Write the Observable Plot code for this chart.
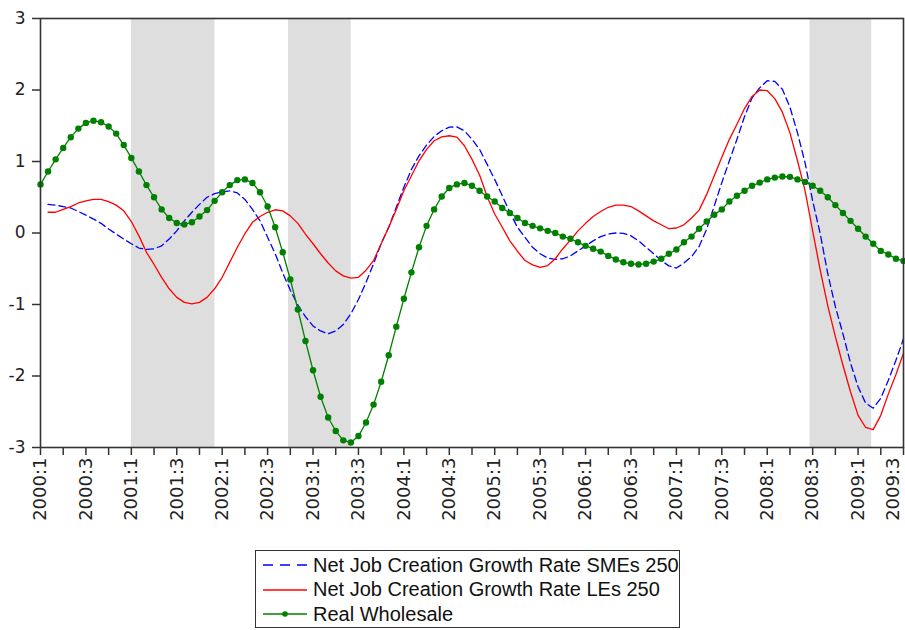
<!DOCTYPE html>
<html>
<head>
<meta charset="utf-8">
<script src="https://cdn.jsdelivr.net/npm/d3@7"></script>
<script src="https://cdn.jsdelivr.net/npm/@observablehq/plot@0.6"></script>
<style>
  body { margin: 0; background: #fff; }
  #chart { position: absolute; left: 0; top: 0; }
  #legend {
    position: absolute; left: 255px; top: 550px; width: 425px; height: 78px;
    border: 1px solid #333; box-sizing: border-box; padding-top: 2px;
    font-family: "Liberation Sans", Arial, sans-serif; font-size: 20px; color: #111;
  }
  .row { display: flex; align-items: center; height: 24.5px; white-space: nowrap; }
  .row svg { margin-left: 7px; margin-right: 6px; }
</style>
</head>
<body>
<div id="chart"></div>
<div id="legend"></div>
<script>
// ---- Data (monthly, starting 2000:1 = January 2000) ----
const startYear = 2000;
const seriesNames = ["Net Job Creation Growth Rate SMEs 250", "Net Job Creation Growth Rate LEs 250", "Real Wholesale"];

// Real Wholesale, months 0..114
const wholesale = [
  0.68, 0.86, 1.03, 1.19, 1.34, 1.46, 1.54, 1.57, 1.55, 1.49,
  1.39, 1.23, 1.05, 0.86, 0.67, 0.50, 0.33, 0.21, 0.14, 0.12,
  0.15, 0.23, 0.32, 0.45, 0.57, 0.67, 0.74, 0.75, 0.70, 0.57,
  0.37, 0.08, -0.27, -0.65, -1.07, -1.51, -1.92, -2.29, -2.58, -2.77,
  -2.90, -2.93, -2.84, -2.65, -2.40, -2.08, -1.71, -1.31, -0.92, -0.55,
  -0.20, 0.10, 0.33, 0.51, 0.63, 0.68, 0.70, 0.66, 0.59, 0.51,
  0.44, 0.35, 0.28, 0.21, 0.14, 0.10, 0.065, 0.03, 0.00, -0.05,
  -0.08, -0.13, -0.18, -0.22, -0.26, -0.32, -0.37, -0.41, -0.43, -0.44,
  -0.43, -0.40, -0.36, -0.29, -0.23, -0.13, -0.05, 0.06, 0.16, 0.255,
  0.33, 0.44, 0.52, 0.59, 0.66, 0.705, 0.75, 0.775, 0.79, 0.785,
  0.75, 0.715, 0.66, 0.59, 0.50, 0.39, 0.28, 0.17, 0.06, -0.05,
  -0.15, -0.25, -0.30, -0.36, -0.39
];

// SMEs and LEs start at month 1
const jobStart = 1;
const smes = [
  0.40, 0.39, 0.37, 0.35, 0.30, 0.25, 0.195, 0.135, 0.055,
  -0.015, -0.085, -0.15, -0.21, -0.23, -0.22, -0.18, -0.085, 0.03, 0.17,
  0.29, 0.40, 0.50, 0.55, 0.575, 0.59, 0.56, 0.47, 0.33, 0.17,
  -0.06, -0.29, -0.56, -0.80, -1.01, -1.17, -1.30, -1.37, -1.41, -1.37,
  -1.28, -1.13, -0.93, -0.69, -0.43, -0.15, 0.08, 0.36, 0.64, 0.89,
  1.08, 1.23, 1.35, 1.43, 1.48, 1.485, 1.43, 1.31, 1.17, 0.96,
  0.75, 0.52, 0.29, 0.08, -0.06, -0.20, -0.29, -0.35, -0.37, -0.36,
  -0.32, -0.25, -0.18, -0.11, -0.05, -0.015, 0.00, -0.005, -0.04, -0.11,
  -0.20, -0.29, -0.385, -0.46, -0.49, -0.42, -0.33, -0.19, 0.055, 0.38,
  0.705, 1.01, 1.31, 1.63, 1.89, 2.03, 2.13, 2.12, 2.01, 1.76,
  1.40, 0.98, 0.45, -0.01, -0.57, -1.03, -1.41, -1.82, -2.15, -2.38,
  -2.45, -2.31, -2.06, -1.78, -1.48
];
const les = [
  0.29, 0.29, 0.33, 0.37, 0.42, 0.45, 0.47, 0.47, 0.44,
  0.39, 0.31, 0.16, -0.04, -0.27, -0.44, -0.62, -0.78, -0.90, -0.97,
  -0.99, -0.97, -0.90, -0.78, -0.62, -0.41, -0.20, -0.01, 0.15, 0.23,
  0.29, 0.325, 0.31, 0.24, 0.135, -0.015, -0.15, -0.29, -0.42, -0.53,
  -0.60, -0.63, -0.62, -0.52, -0.385, -0.15, 0.08, 0.33, 0.59, 0.80,
  1.01, 1.17, 1.29, 1.345, 1.36, 1.34, 1.22, 1.03, 0.81, 0.51,
  0.265, 0.08, -0.11, -0.255, -0.385, -0.445, -0.48, -0.455, -0.36, -0.22,
  -0.10, 0.03, 0.135, 0.23, 0.30, 0.36, 0.39, 0.39, 0.37, 0.31,
  0.24, 0.17, 0.115, 0.06, 0.07, 0.115, 0.21, 0.32, 0.54, 0.80,
  1.06, 1.31, 1.52, 1.74, 1.91, 2.00, 1.99, 1.88, 1.69, 1.40,
  1.01, 0.59, 0.03, -0.52, -1.02, -1.45, -1.85, -2.22, -2.55, -2.72,
  -2.75, -2.55, -2.25, -1.98, -1.68
];

// Shaded periods (decimal years)
const bandStarts = [2001.0, 2002.73, 2008.47];
const bandEnds   = [2001.92, 2003.42, 2009.15];

// Axis tick labels (every second quarter)
const tickLabels = ["2000:1","2000:3","2001:1","2001:3","2002:1","2002:3","2003:1","2003:3",
  "2004:1","2004:3","2005:1","2005:3","2006:1","2006:3","2007:1","2007:3",
  "2008:1","2008:3","2009:1","2009:3"];
const yTicks = [-3, -2, -1, 0, 1, 2, 3];

// ---- Build tables ----
const toT = m => startYear + m / 12;
const greenData = wholesale.map((v, i) => ({t: toT(i), v}));
const blueData = smes.map((v, i) => ({t: toT(i + jobStart), v}));
const redData = les.map((v, i) => ({t: toT(i + jobStart), v}));
const bands = bandStarts.map((s, i) => ({s, e: bandEnds[i]}));

const labelPos = tickLabels.map(l => { const [y, q] = l.split(":").map(Number); return y + (q - 1) / 4; });
const lastPos = labelPos[labelPos.length - 1];
const quarterTicks = [];
for (let i = 0; i <= (lastPos - labelPos[0]) * 4 + 0.001; i++) quarterTicks.push(labelPos[0] + i / 4);
const fmtX = d => { const k = labelPos.findIndex(p => Math.abs(p - d) < 1e-6); return k >= 0 ? tickLabels[k] : ""; };
const fmtXMain = d => Math.abs(d - lastPos) < 1e-6 ? "" : fmtX(d);

const chart = Plot.plot({
  width: 905,
  height: 535,
  marginLeft: 40,
  marginRight: 2,
  marginTop: 18,
  marginBottom: 88,
  x: {domain: [labelPos[0], lastPos]},
  y: {domain: [-3, 3]},
  style: {fontFamily: "'DejaVu Sans', sans-serif", color: "#222", background: "#fff"},
  marks: [
    Plot.rect(bands, {x1: "s", x2: "e", fill: "#dedede"}),
    Plot.axisY({ticks: yTicks, tickSize: 8, tickPadding: 7, tickFormat: d => String(d), fontSize: 17, label: null, stroke: "#333", strokeWidth: 1.5}),
    Plot.axisX({ticks: quarterTicks, tickSize: 8, tickPadding: 2, tickRotate: -90, tickFormat: fmtXMain, fontSize: 18, label: null, stroke: "#333", strokeWidth: 1.5}),
    // last label nudged inward so it stays inside the window
    Plot.axisX({ticks: [lastPos], tickSize: 0, tickPadding: 10, tickRotate: -90, tickFormat: fmtX, fontSize: 18, label: null, dx: -10}),
    Plot.line(blueData, {x: "t", y: "v", stroke: "#0000ff", strokeWidth: 1.3, strokeDasharray: "7,4"}),
    Plot.line(redData, {x: "t", y: "v", stroke: "#ff0000", strokeWidth: 1.3}),
    Plot.line(greenData, {x: "t", y: "v", stroke: "#008000", strokeWidth: 1.3}),
    Plot.dot(greenData, {x: "t", y: "v", r: 3.2, fill: "#008000"}),
    Plot.frame({stroke: "#333", strokeWidth: 1.6})
  ]
});
document.getElementById("chart").append(chart);

// ---- Legend ----
const legend = document.getElementById("legend");
const samples = [
  `<line x1="0" y1="6" x2="44" y2="6" stroke="#0000ff" stroke-width="1.5" stroke-dasharray="10,7"/>`,
  `<line x1="0" y1="6" x2="44" y2="6" stroke="#ff0000" stroke-width="1.5"/>`,
  `<line x1="0" y1="6" x2="44" y2="6" stroke="#008000" stroke-width="1.5"/><circle cx="22" cy="6" r="2.8" fill="#008000"/>`
];
seriesNames.forEach((name, i) => {
  const row = document.createElement("div");
  row.className = "row";
  row.innerHTML = `<svg width="44" height="12">${samples[i]}</svg><span>${name}</span>`;
  legend.append(row);
});
</script>
</body>
</html>
